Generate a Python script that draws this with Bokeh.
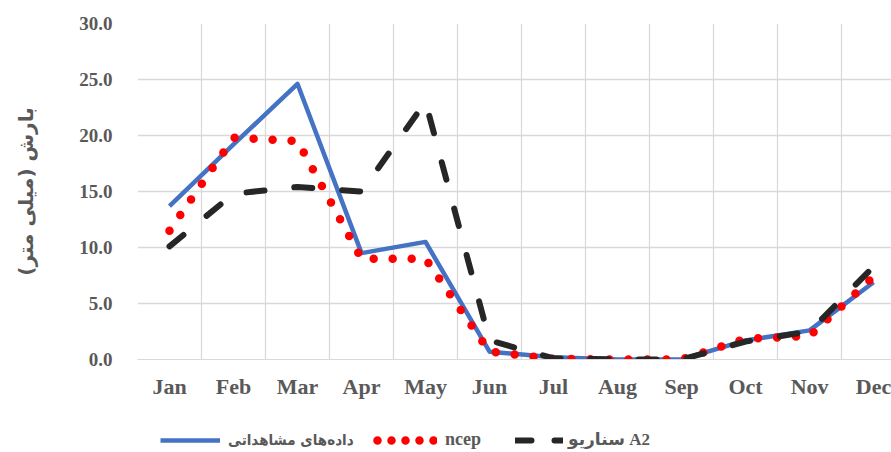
from bokeh.plotting import figure
from bokeh.layouts import column
from bokeh.models import FixedTicker, Legend, LegendItem, Range1d, NumeralTickFormatter
from bokeh.embed import file_html
from bokeh.resources import INLINE

months = ["Jan", "Feb", "Mar", "Apr", "May", "Jun", "Jul", "Aug", "Sep", "Oct", "Nov", "Dec"]
observed = [13.7, 19.2, 24.6, 9.5, 10.5, 0.7, 0.2, 0.0, 0.0, 1.7, 2.6, 6.9]
ncep = [11.5, 19.8, 19.5, 9.0, 9.0, 0.7, 0.05, 0.0, 0.0, 1.85, 2.1, 7.4]
a2 = [10.1, 14.8, 15.4, 15.0, 23.0, 1.7, 0.1, 0.0, 0.0, 1.6, 2.5, 8.3]
y_ticks = [0, 5, 10, 15, 20, 25, 30]
series_names = ["داده‌های مشاهداتی", "ncep", "سناریو A2"]
y_label = "بارش (میلی متر)"

xs = list(range(len(months)))
TEXT = "#595959"
GRID = "#d9d9d9"
BLUE, RED, BLACK = "#4472C4", "#FF0000", "#262626"
SERIF = "'Liberation Serif', 'DejaVu Sans'"
FA = "'DejaVu Sans Condensed', 'DejaVu Sans'"

p = figure(width=891, height=407, output_backend="svg", toolbar_location=None,
           x_range=Range1d(-0.5, 11.28), y_range=Range1d(0, 30),
           min_border_left=137, min_border_right=0, min_border_top=23, min_border_bottom=48)
p.outline_line_color = None
p.background_fill_color = "white"
p.border_fill_color = "white"

p.line(xs, observed, line_color=BLUE, line_width=4.5, line_join="round")
p.line(xs, ncep, line_color=RED, line_width=8.5, line_cap="round", line_dash="0 19")
p.line(xs, a2, line_color=BLACK, line_width=6, line_cap="round", line_dash="18 30")

# axes
p.xaxis.ticker = FixedTicker(ticks=xs)
p.xaxis.major_label_overrides = {i: m for i, m in enumerate(months)}
p.yaxis.ticker = FixedTicker(ticks=y_ticks)
p.yaxis.formatter = NumeralTickFormatter(format="0.0")
for ax in (p.xaxis[0], p.yaxis[0]):
    ax.major_tick_line_color = None
    ax.minor_tick_line_color = None
    ax.major_label_text_font = SERIF
    ax.major_label_text_font_style = "bold"
    ax.major_label_text_color = TEXT
p.xaxis.major_label_text_font_size = "22px"
p.yaxis.major_label_text_font_size = "19px"
p.xaxis.axis_line_color = GRID
p.yaxis.axis_line_color = None
p.xaxis.major_label_standoff = 8
p.yaxis.major_label_standoff = 19
p.yaxis.axis_label = y_label
p.yaxis.axis_label_text_font = "DejaVu Sans"
p.yaxis.axis_label_text_font_style = "bold"
p.yaxis.axis_label_text_font_size = "20px"
p.yaxis.axis_label_text_color = TEXT
p.yaxis.axis_label_standoff = 38

p.xgrid.ticker = FixedTicker(ticks=[i - 0.5 for i in range(13)])
p.xgrid.grid_line_color = GRID
p.ygrid.grid_line_color = GRID
p.xgrid.grid_line_width = 1.3
p.ygrid.grid_line_width = 1.3

# legend strip below the chart (its frame is aligned with the chart's frame)
lp = figure(width=891, height=45, output_backend="svg", toolbar_location=None,
            x_range=Range1d(0, 1), y_range=Range1d(0, 1),
            x_axis_location=None, y_axis_location=None,
            min_border=0, min_border_left=0, min_border_right=0,
            min_border_top=0, min_border_bottom=0)
lp.outline_line_color = None
lp.grid.visible = False
nan = float("nan")
lg1 = lp.line(x=[nan], y=[nan], line_color=BLUE, line_width=4.5)
lg2 = lp.line(x=[nan], y=[nan], line_color=RED, line_width=8.5, line_cap="round",
              line_dash="0 14", line_dash_offset=10)
lg3 = lp.line(x=[nan], y=[nan], line_color=BLACK, line_width=6, line_cap="round", line_dash="16 23")

common = dict(orientation="horizontal", padding=0, margin=0, border_line_color=None,
              background_fill_alpha=0, label_text_color=TEXT, label_height=20, glyph_height=20)
leg1 = Legend(items=[LegendItem(label=series_names[0], renderers=[lg1])],
              location=(23, 2), glyph_width=60, label_standoff=8,
              label_text_font=FA, label_text_font_style="bold", label_text_font_size="15px", **common)
leg2 = Legend(items=[LegendItem(label=series_names[1], renderers=[lg2])],
              location=(236, 2), glyph_width=64, label_standoff=8,
              label_text_font=SERIF, label_text_font_style="bold", label_text_font_size="18px", **common)
leg3 = Legend(items=[LegendItem(label=series_names[2], renderers=[lg3])],
              location=(378, 2), glyph_width=48, label_standoff=5,
              label_text_font=SERIF, label_text_font_style="bold", label_text_font_size="17px", **common)
for lg in (leg1, leg2, leg3):
    lp.add_layout(lg, "center")

layout = column(p, lp, spacing=0)
open("out.html", "w").write(file_html(layout, INLINE))
